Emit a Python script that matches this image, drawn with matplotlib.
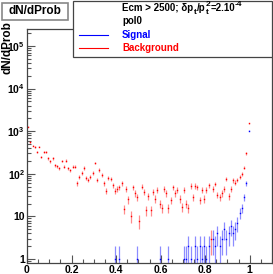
import numpy as np
import matplotlib
matplotlib.use("Agg")
import matplotlib.pyplot as plt
from matplotlib.patches import Rectangle
from matplotlib.lines import Line2D
from matplotlib.ticker import FixedLocator, LogLocator, NullFormatter

plt.rcParams["font.family"] = ["Liberation Sans", "DejaVu Sans"]
plt.rcParams["font.weight"] = "bold"
plt.rcParams["mathtext.fontset"] = "custom"
plt.rcParams["mathtext.rm"] = "Liberation Sans:bold"
plt.rcParams["mathtext.it"] = "Liberation Sans:bold"
plt.rcParams["mathtext.bf"] = "Liberation Sans:bold"
plt.rcParams["mathtext.default"] = "rm"

# 100 bins of width 0.01 on [0, 1]
bin_centers = np.arange(100) * 0.01 + 0.005

background = [
    1260, 560, 460, 420, 330, 435, 250, 325, 320, 230,
    195, 230, 160, 150, 135, 200, 147, 203, 134, 120,
    147, 147, 60, 85, 105, 137, 79, 71, 85, 105,
    180, 71, 123, 93, 60, 40, 80, 75, 55, 40,
    45, 48, 60, 15, 45, 25, 10, 48, 35, 28,
    8, 50, 38, 14, 30, 14, 38, 26, 42, 20,
    16, 45, 35, 16, 24, 48, 35, 42, 26, 17,
    42, 20, 16, 52, 28, 52, 48, 24, 42, 26,
    42, 55, 3, 45, 58, 32, 28, 35, 45, 75,
    30, 45, 70, 62, 72, 85, 100, 140, 300, 1550,
]

signal = [0] * 100
signal_bins = [39, 41, 49, 59, 63, 70, 71, 72, 73, 75, 76, 77, 78, 79, 80, 81,
               83, 84, 85, 86, 87, 88, 89, 90, 91, 92, 93, 94, 95, 96, 97, 98, 99]
signal_vals = [1, 1, 1, 1, 1, 1, 1, 2, 1, 2, 1, 2, 1, 2, 1, 2,
               3, 2, 4, 2, 3, 5, 3, 4, 6, 4, 5, 7, 12, 16, 28, 60, 1030]
for b, v in zip(signal_bins, signal_vals):
    signal[b] = v

x_ticks = [0, 0.2, 0.4, 0.6, 0.8, 1.0]
x_ticklabels = ["0", "0.2", "0.4", "0.6", "0.8", "1"]
y_ticks = [1, 10, 1e2, 1e3, 1e4, 1e5]
y_ticklabels = ["1", "10", "$10^{2}$", "$10^{3}$", "$10^{4}$", "$10^{5}$"]

fig = plt.figure(figsize=(2.73, 2.74), dpi=100)
ax = fig.add_axes([27 / 273, 11 / 274, 245 / 273, 234 / 274])


def draw_hist(values, color, ecolor):
    v = np.asarray(values, dtype=float)
    m = v > 0
    x = bin_centers[m]
    y = v[m]
    err = np.sqrt(y)
    lo = np.minimum(err, y - 1e-6)
    ax.errorbar(x, y, yerr=[lo, err], fmt="none", ecolor=ecolor,
                elinewidth=0.9, capsize=0)
    ax.plot(x, y, "s", ms=1.0, color=color, mew=0)


draw_hist(background, "red", (1, 0, 0, 0.45))
draw_hist(signal, "blue", (0, 0, 1, 0.45))

ax.set_yscale("log", nonpositive="clip")
ax.set_xlim(0, 1.1)
ax.set_ylim(0.806, 2.5e5)

ax.set_xticks(x_ticks)
ax.set_xticklabels(x_ticklabels, fontsize=7.5, fontweight="bold")
ax.xaxis.set_minor_locator(FixedLocator(np.arange(0, 1.101, 0.05)))
ax.yaxis.set_major_locator(FixedLocator(y_ticks))
ax.set_yticklabels(y_ticklabels, fontsize=7.5, fontweight="bold")
ax.yaxis.set_minor_locator(LogLocator(base=10, subs=np.arange(2, 10), numticks=20))
ax.yaxis.set_minor_formatter(NullFormatter())

ax.tick_params(which="both", direction="in", top=False, right=False,
               color="#555555", width=0.8)
ax.tick_params(which="major", length=6, pad=1.5)
ax.tick_params(which="minor", length=3)
for s in ax.spines.values():
    s.set_color("#444444")
    s.set_linewidth(0.9)

ax.set_ylabel("dN/dProb", fontsize=8.5, fontweight="bold", ha="right", va="center")
ax.yaxis.set_label_coords(-0.078, 1.035)

# title box
fig.patches.append(Rectangle((2 / 273, 1 - 20 / 274), 66 / 273, 17 / 274,
                             transform=fig.transFigure, facecolor="white",
                             edgecolor="#888888", lw=1.2))
fig.text(35 / 273, 1 - 11.5 / 274, "dN/dProb", ha="center", va="center",
         fontsize=8.5, fontweight="bold")

# legend box
fig.patches.append(Rectangle((73 / 273, 1 - 57 / 274), 199 / 273, 56 / 274,
                             transform=fig.transFigure, facecolor="white",
                             edgecolor="#444444", lw=0.9, zorder=5))

renderer = fig.canvas.get_renderer()
W, H = 273.0, 274.0


def text_width(txt, size):
    t = fig.text(0, 0, txt, fontsize=size, fontweight="bold")
    w = t.get_window_extent(renderer).width
    t.remove()
    return w


def put(x, ybase, txt, size, dy=0):
    fig.text(x / W, 1 - (ybase - dy) / H, txt, ha="left", va="baseline",
             fontsize=size, fontweight="bold", color="black", zorder=6)
    return text_width(txt, size)


# first legend row: Ecm > 2500; dp_t/p_t^2=2.10^-4 built from pieces
yb = 11
x = 122
x += put(x, yb, "Ecm > 2500; \u03b4p", 7) + 0.5
x += put(x, yb, "t", 6, -2.5) + 0.5
x += put(x, yb, "/p", 7) + 0.5
put(x, yb, "2", 6, 4.5)
x += put(x, yb, "t", 6, -2.5) + 1.5
x += put(x, yb, "=2.10", 7)
put(x, yb, "-4", 6, 4.5)

rows = [
    ("pol0", "black", None),
    ("Signal", "blue", "blue"),
    ("Background", "red", "red"),
]
row_y = [21, 35, 48]
for (label, tcolor, lcolor), yp in zip(rows, row_y):
    yf = 1 - yp / H
    fig.text(122 / W, yf, label, ha="left", va="center", fontsize=7,
             fontweight="bold", color=tcolor, zorder=6)
    if lcolor is not None:
        fig.add_artist(Line2D([79 / W, 108 / W], [yf, yf],
                              transform=fig.transFigure, color=lcolor,
                              lw=0.8, zorder=6))

fig.savefig("out.png", dpi=100)
